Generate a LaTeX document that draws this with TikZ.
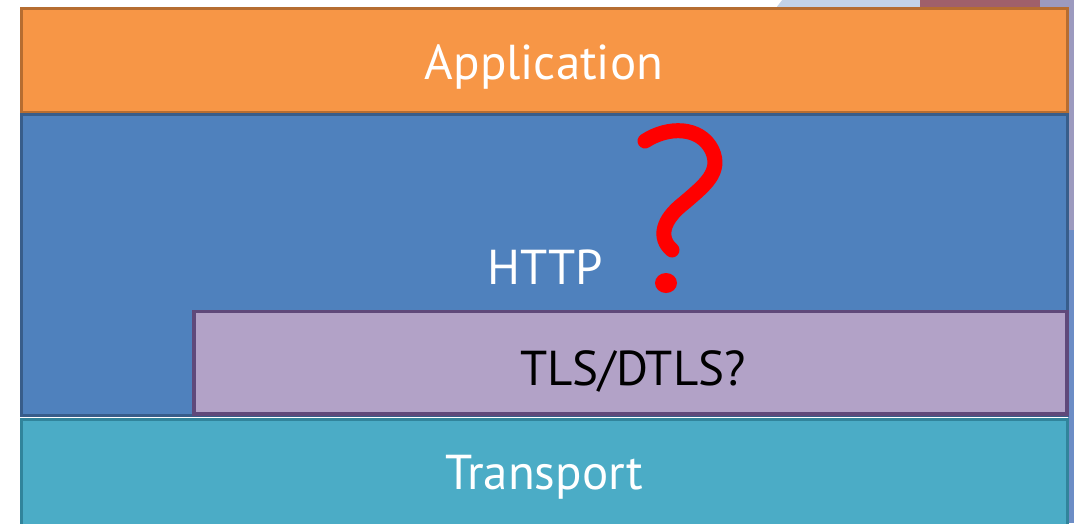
\documentclass[tikz,border=0pt]{standalone}
\usepackage{fontspec}
\setmainfont{PT Sans}
\definecolor{appfill}{HTML}{F79646}
\definecolor{appline}{HTML}{B66D31}
\definecolor{httpfill}{HTML}{4F81BD}
\definecolor{httpline}{HTML}{385D8A}
\definecolor{tlsfill}{HTML}{B2A2C7}
\definecolor{tlsline}{HTML}{5F497A}
\definecolor{trfill}{HTML}{4BACC6}
\definecolor{trline}{HTML}{31849B}
\definecolor{bgsky}{HTML}{C3D3E8}
\definecolor{bgwine}{HTML}{A0606A}
\definecolor{bglilac}{HTML}{9C9ABF}
\definecolor{bgblue}{HTML}{6C8DC6}
\begin{document}
\begin{tikzpicture}[x=1pt,y=-1pt,
  layer/.style={line width=3pt},
  label/.style={font=\fontsize{49}{54}\selectfont, anchor=base, inner sep=0pt}]
\useasboundingbox (0,0) rectangle (1074,523);
\clip (0,0) rectangle (1074,523);
% backdrop strips behind the stack
\fill[white] (0,0) rectangle (1074,523);
\fill[bgsky] (772,0) rectangle (920,9);
\fill[white] (772,0) -- (782,0) -- (775,9) -- (772,9) -- cycle;
\fill[bgwine] (920,0) rectangle (1040,9);
\fill[bglilac] (1040,0) rectangle (1074,9);
\fill[bglilac] (1068,0) rectangle (1074,230);
\fill[bgblue] (1068,230) rectangle (1074,523);
% protocol layers
\draw[layer, draw=appline, fill=appfill] (21.5,8.5) rectangle (1067.5,112.5);
\draw[layer, draw=httpline, fill=httpfill] (21.5,114.5) rectangle (1067.5,415);
\draw[layer, draw=trline, fill=trfill] (21.5,419.5) rectangle (1067.5,540);
\draw[line width=3.5pt, draw=tlsline, fill=tlsfill] (194,311.5) rectangle (1067,414);
% labels
\node[label, text=white] (app) at (544,79) {Application};
\node[label, text=white] (http) at (545,284) {HTTP};
\node[label, text=black] (tls) at (633,385) {TLS/DTLS?};
\node[label, text=white] (tr) at (544,489) {Transport};
% hand-drawn question mark
\draw[red, line width=15pt, line cap=round, line join=round]
  (645,141) .. controls (668,126) and (700,126) .. (712,150)
  .. controls (722,172) and (705,185) .. (684,203)
  .. controls (662,220) and (658,238) .. (672,250);
\fill[red] (666,283) ellipse (11 and 10);
\end{tikzpicture}
\end{document}
